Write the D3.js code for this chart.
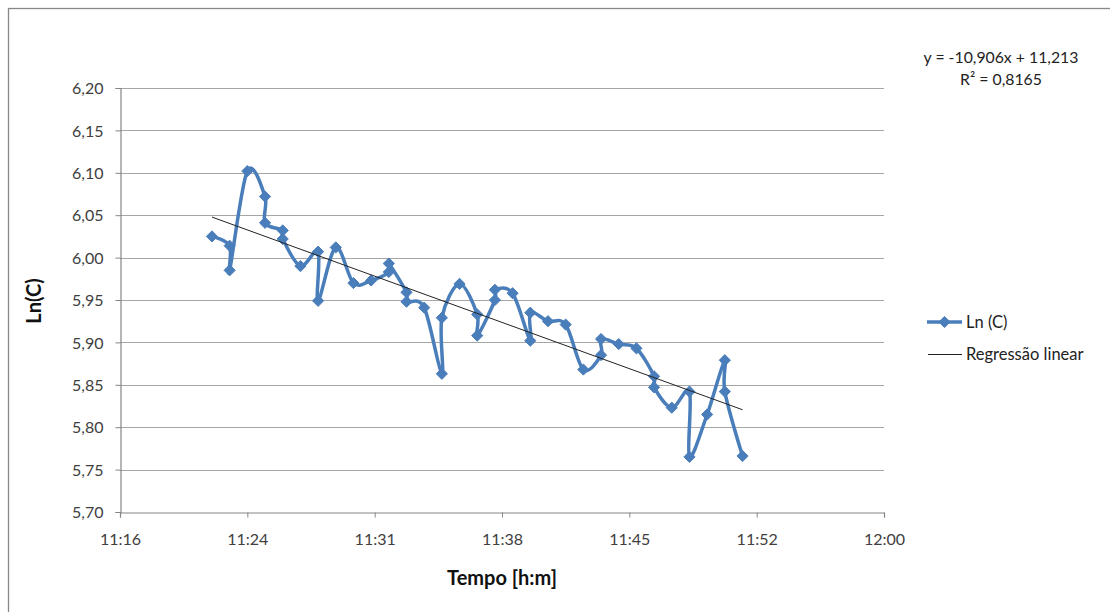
<!DOCTYPE html>
<html>
<head>
<meta charset="utf-8">
<script src="https://cdn.jsdelivr.net/npm/d3@7"></script>
<style>
  html, body { margin: 0; padding: 0; background: #fff; }
  svg { display: block; font-family: Lato, "Open Sans", sans-serif; }
</style>
</head>
<body>
<svg id="chart" width="1110" height="612"></svg>
<script>
// Sample times (h:mm) in measurement order; repeated minutes are two readings
const times = [
  "11:22", "11:23", "11:23", "11:24", "11:25", "11:25", "11:26", "11:26",
  "11:27", "11:28", "11:28", "11:29", "11:30", "11:31", "11:32", "11:32",
  "11:33", "11:33", "11:34", "11:35", "11:35", "11:36", "11:37", "11:37",
  "11:38", "11:38", "11:39", "11:40", "11:40", "11:41", "11:42", "11:43",
  "11:44", "11:44", "11:45", "11:46", "11:47", "11:47", "11:48", "11:49",
  "11:49", "11:50", "11:51", "11:51", "11:52"
];
// Ln(C) per sample
const lnC = [
  6.025, 6.014, 5.985, 6.102, 6.072, 6.041, 6.032, 6.022,
  5.990, 6.007, 5.949, 6.012, 5.970, 5.973, 5.983, 5.993,
  5.959, 5.948, 5.941, 5.863, 5.929, 5.969, 5.933, 5.908,
  5.950, 5.962, 5.958, 5.902, 5.935, 5.925, 5.921, 5.868,
  5.885, 5.904, 5.898, 5.893, 5.860, 5.847, 5.823, 5.842,
  5.765, 5.815, 5.879, 5.842, 5.766
];
// Linear regression in Excel day fractions: y = slope * x + intercept
const trendSlope = -10.906;
const trendIntercept = 11.213;
const trendLabel = ["y = -10,906x + 11,213", "R\u00b2 = 0,8165"];

// Axes (time as fraction of a day)
const xMin = 0.47, xMax = 0.50, xStep = 0.005;
const yTicks = [5.70, 5.75, 5.80, 5.85, 5.90, 5.95, 6.00, 6.05, 6.10, 6.15, 6.20];
const xTickLabels = ["11:16", "11:24", "11:31", "11:38", "11:45", "11:52", "12:00"];

const seriesName = "Ln (C)";
const trendName = "Regress\u00e3o linear";
const xTitle = "Tempo [h:m]";
const yTitle = "Ln(C)";

const toDay = s => { const [h, m] = s.split(":").map(Number); return (h * 60 + m) / 1440; };
const data = times.map((t, i) => ({ x: toDay(t), y: lnC[i] }));

const svg = d3.select("#chart");
const plot = { left: 120, right: 884, top: 88, bottom: 512 };

// Outer chart frame
svg.append("rect")
  .attr("x", 8.5).attr("y", 8.5).attr("width", 1120).attr("height", 620)
  .attr("fill", "#fff").attr("stroke", "#888").attr("stroke-width", 1.3);

const x = d3.scaleLinear().domain([xMin, xMax]).range([plot.left, plot.right]);
const y = d3.scaleLinear().domain([yTicks[0], yTicks[yTicks.length - 1]]).range([plot.bottom, plot.top]);

const xTickVals = d3.range(xTickLabels.length).map(i => xMin + i * xStep);
const comma = d => d3.format(".2f")(d).replace(".", ",");

// Horizontal gridlines
svg.append("g")
  .selectAll("line").data(yTicks.slice(1)).join("line")
  .attr("x1", plot.left).attr("x2", plot.right)
  .attr("y1", d => Math.round(y(d)) + 0.5).attr("y2", d => Math.round(y(d)) + 0.5)
  .attr("stroke", "#a6a6a6").attr("stroke-width", 1.2);

// Y axis
const yAxis = svg.append("g")
  .attr("transform", `translate(${plot.left + 0.5},0)`)
  .call(d3.axisLeft(y).tickValues(yTicks).tickFormat(comma).tickSize(5).tickPadding(12));
// X axis
const xAxis = svg.append("g")
  .attr("transform", `translate(0,${plot.bottom + 0.5})`)
  .call(d3.axisBottom(x).tickValues(xTickVals).tickFormat((d, i) => xTickLabels[i]).tickSize(5).tickPadding(16));

[yAxis, xAxis].forEach(g => {
  g.select(".domain").attr("stroke", "#868686").attr("stroke-width", 1.2);
  g.selectAll(".tick line").attr("stroke", "#868686");
  g.selectAll(".tick text").attr("fill", "#404040").style("font-size", "16px")
    .style("font-family", "Lato, 'Open Sans', sans-serif");
});
yAxis.selectAll(".tick text").attr("dy", "0.35em");

// Smoothed series
const blue = "#4a7ebb";
svg.append("path")
  .datum(data)
  .attr("fill", "none").attr("stroke", blue).attr("stroke-width", 3.5)
  .attr("stroke-linejoin", "round")
  .attr("d", d3.line().x(d => x(d.x)).y(d => y(d.y)).curve(d3.curveCardinal.tension(0)));

// Diamond markers
const diamond = d3.symbol().type(d3.symbolDiamond2).size(80);
svg.append("g")
  .selectAll("path").data(data).join("path")
  .attr("transform", d => `translate(${x(d.x)},${y(d.y)})`)
  .attr("d", diamond)
  .attr("fill", blue).attr("stroke", blue).attr("stroke-width", 1);

// Trendline over the data range, on top of the series
const xs = d3.extent(data, d => d.x);
svg.append("line")
  .attr("x1", x(xs[0])).attr("y1", y(trendSlope * xs[0] + trendIntercept))
  .attr("x2", x(xs[1])).attr("y2", y(trendSlope * xs[1] + trendIntercept))
  .attr("stroke", "#222").attr("stroke-width", 1);

// Regression equation
svg.append("g").selectAll("text").data(trendLabel).join("text")
  .attr("x", 1001).attr("y", (d, i) => 63 + i * 22)
  .attr("text-anchor", "middle").attr("fill", "#222")
  .style("font-size", "15.8px").text(d => d);

// Legend
const lg = svg.append("g");
lg.append("line").attr("x1", 927).attr("x2", 962).attr("y1", 322).attr("y2", 322)
  .attr("stroke", blue).attr("stroke-width", 3.5);
lg.append("path").attr("transform", "translate(944.5,322)").attr("d", diamond)
  .attr("fill", blue).attr("stroke", blue);
lg.append("text").attr("x", 966).attr("y", 327.5).attr("fill", "#222")
  .style("font-size", "16.5px").text(seriesName);
lg.append("line").attr("x1", 928).attr("x2", 962).attr("y1", 354.5).attr("y2", 354.5)
  .attr("stroke", "#222").attr("stroke-width", 1);
lg.append("text").attr("x", 966).attr("y", 360).attr("fill", "#222")
  .style("font-size", "16.5px").text(trendName);

// Axis titles
svg.append("text").attr("x", 502).attr("y", 585).attr("text-anchor", "middle")
  .attr("fill", "#111").style("font-size", "20px").style("font-weight", "bold").text(xTitle);
svg.append("text").attr("transform", "translate(41,301) rotate(-90)").attr("text-anchor", "middle")
  .attr("fill", "#111").style("font-size", "20px").style("font-weight", "bold").text(yTitle);
</script>
</body>
</html>
